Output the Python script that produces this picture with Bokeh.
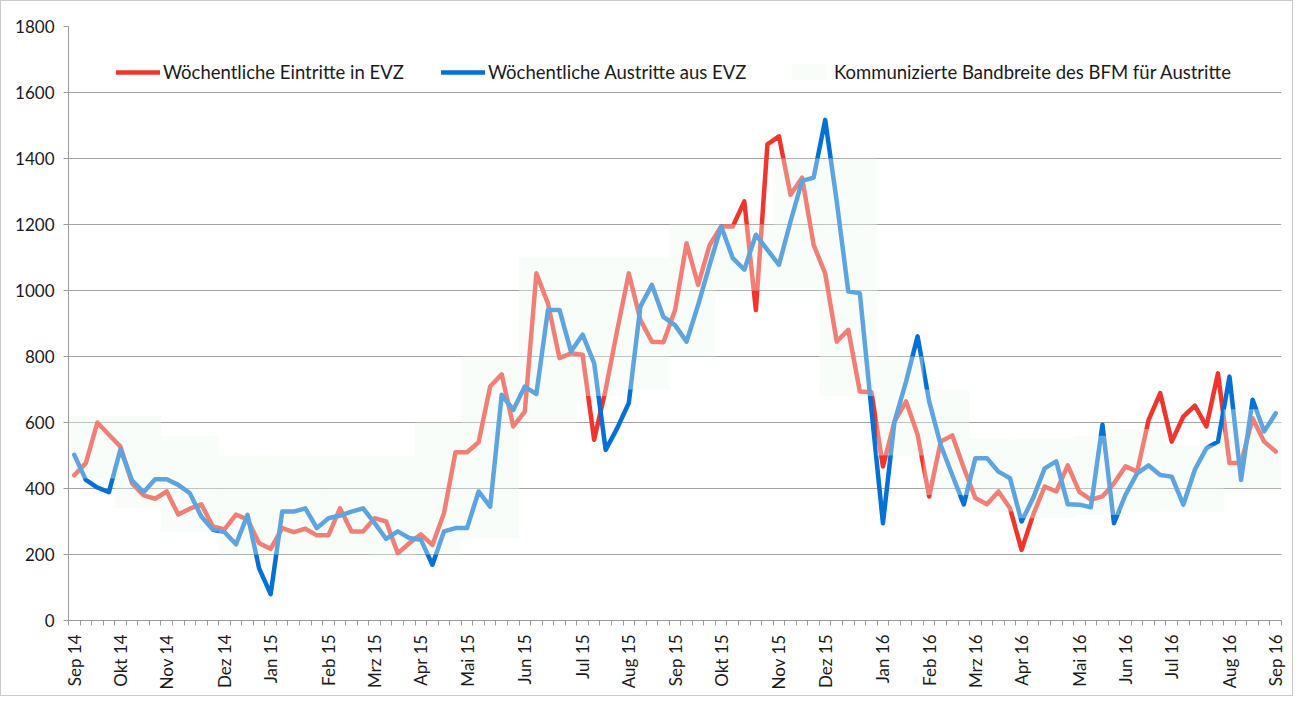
from bokeh.plotting import figure
from bokeh.models import Legend, LegendItem, FixedTicker, Range1d
from bokeh.embed import file_html
from bokeh.resources import INLINE
from math import pi

# ---- data -------------------------------------------------------------
month_labels = ["Sep 14", "Okt 14", "Nov 14", "Dez 14", "Jan 15", "Feb 15", "Mrz 15",
                "Apr 15", "Mai 15", "Jun 15", "Jul 15", "Aug 15", "Sep 15", "Okt 15",
                "Nov 15", "Dez 15", "Jan 16", "Feb 16", "Mrz 16", "Apr 16", "Mai 16",
                "Jun 16", "Jul 16", "Aug 16", "Sep 16"]
month_idx = [0, 4, 8, 13, 17, 22, 26, 30, 34, 39, 44, 48, 52, 56, 61, 65, 70, 74, 78,
             82, 87, 91, 95, 100, 104]

eintritte = [440, 477, 600, 563, 527, 416, 379, 369, 391, 321, 339, 352, 285, 276, 321,
             306, 234, 217, 280, 268, 278, 258, 258, 340, 270, 270, 310, 300, 204, 234,
             261, 229, 325, 510, 510, 540, 709, 746, 588, 633, 1052, 961, 795, 810, 805,
             548, 700, 880, 1052, 911, 845, 843, 940, 1143, 1017, 1138, 1194, 1194, 1270,
             941, 1443, 1467, 1290, 1342, 1138, 1052, 845, 881, 694, 692, 467, 603, 664,
             563, 376, 542, 561, 462, 371, 352, 391, 340, 214, 320, 406, 391, 470, 390,
             366, 376, 416, 467, 451, 608, 689, 542, 618, 651, 588, 749, 477, 477, 613,
             542, 512]

austritte = [502, 426, 403, 389, 519, 424, 389, 428, 428, 411, 386, 315, 275, 268, 231,
             320, 158, 80, 330, 330, 340, 280, 310, 318, 330, 340, 295, 247, 270, 250,
             245, 169, 270, 280, 280, 391, 345, 684, 638, 709, 686, 941, 941, 815, 866,
             780, 517, 583, 659, 951, 1017, 920, 895, 845, 956, 1078, 1194, 1098, 1063,
             1169, 1123, 1078, 1209, 1332, 1342, 1517, 1270, 997, 992, 640, 295, 603, 724,
             861, 664, 532, 441, 352, 492, 492, 451, 431, 300, 371, 461, 482, 352, 351,
             343, 593, 295, 381, 446, 470, 441, 436, 351, 457, 522, 542, 739, 426, 669,
             573, 628]

# communicated range (per month)
band_lo = [430, 340, 270, 200, 200, 200, 190, 200, 250, 600, 680, 700, 800, 1000, 1000,
           680, 500, 380, 330, 310, 320, 330, 330, 400, 400]
band_hi = [620, 620, 560, 500, 500, 500, 500, 600, 800, 1100, 1100, 1100, 1200, 1200,
           1400, 1400, 800, 700, 550, 550, 560, 580, 530, 640, 640]

y_ticks = [0, 200, 400, 600, 800, 1000, 1200, 1400, 1600, 1800]

weeks = list(range(len(eintritte)))
n = len(weeks)
band_left = [m - 0.5 for m in month_idx]
band_right = [m - 0.5 for m in month_idx[1:]] + [n - 0.5]

# ---- figure -----------------------------------------------------------
FONT = "Lato"
p = figure(width=1293, height=696, output_backend="svg", toolbar_location=None,
           x_range=Range1d(-0.5, n - 0.5), y_range=Range1d(0, 1800),
           min_border_left=67, min_border_right=13, min_border_top=25,
           min_border_bottom=77)
p.outline_line_color = None
p.background_fill_color = "white"
p.border_fill_color = "white"
p.styles = {"border": "1px solid #c9c9c9"}

p.xgrid.visible = False
p.ygrid.ticker = FixedTicker(ticks=y_ticks)
p.ygrid.grid_line_color = "#a3a3a3"
p.ygrid.grid_line_width = 1

r_red = p.line(weeks, eintritte, line_color="#f2352c", line_width=4.5,
               line_join="round", line_cap="round")
r_blue = p.line(weeks, austritte, line_color="#0570d6", line_width=4.5,
                line_join="round", line_cap="round")
r_band = p.quad(left=band_left, right=band_right, bottom=band_lo, top=band_hi,
                fill_color="#eef9ef", fill_alpha=0.38, line_color=None)

# y axis
yax = p.yaxis[0]
yax.ticker = FixedTicker(ticks=y_ticks)
yax.axis_line_color = "#9a9a9a"
yax.major_tick_line_color = "#9a9a9a"
yax.major_tick_out = 5
yax.major_tick_in = 0
yax.minor_tick_line_color = None
yax.major_label_text_font = FONT
yax.major_label_text_font_size = "17px"
yax.major_label_text_color = "#1a1a1a"
yax.major_label_standoff = 9

# x axis
xax = p.xaxis[0]
xax.ticker = FixedTicker(ticks=month_idx, minor_ticks=[w - 0.5 for w in weeks] + [n - 0.5])
xax.major_label_overrides = {m: lab for m, lab in zip(month_idx, month_labels)}
xax.major_label_orientation = pi / 2
xax.major_tick_line_color = None
xax.minor_tick_line_color = "#9a9a9a"
xax.minor_tick_out = 5
xax.minor_tick_in = 0
xax.axis_line_color = "#9a9a9a"
xax.major_label_text_font = FONT
xax.major_label_text_font_size = "17px"
xax.major_label_text_color = "#1a1a1a"
xax.major_label_standoff = 8

# legends
def make_legend(label, renderer, x):
    leg = Legend(items=[LegendItem(label=label, renderers=[renderer])],
                 location=(x, 537), orientation="horizontal",
                 border_line_color=None, background_fill_alpha=0,
                 glyph_width=44, glyph_height=20, label_standoff=3,
                 label_height=20, padding=0, margin=0, spacing=0,
                 label_text_font=FONT, label_text_font_size="18.5px",
                 label_text_color="#1a1a1a")
    p.add_layout(leg)

make_legend("Wöchentliche Eintritte in EVZ", r_red, 48)
make_legend("Wöchentliche Austritte aus EVZ", r_blue, 373)
make_legend("Kommunizierte Bandbreite des BFM für Austritte", r_band, 719)

open("out.html", "w").write(file_html(p, INLINE))
